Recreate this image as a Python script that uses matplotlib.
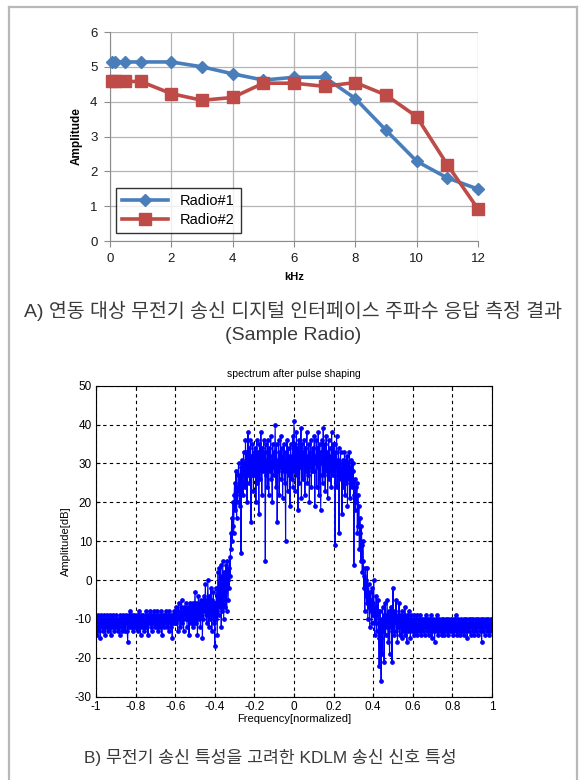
import numpy as np
import matplotlib
matplotlib.use("Agg")
import matplotlib.pyplot as plt

plt.rcParams['font.family'] = ['Liberation Sans', 'Noto Sans CJK KR', 'DejaVu Sans']
plt.rcParams['axes.unicode_minus'] = False

# ---- A) frequency response of the sample radios ----
khz = [0.05, 0.15, 0.5, 1, 2, 3, 4, 5, 6, 7, 8, 9, 10, 11, 12]
radio1 = [5.14, 5.14, 5.14, 5.14, 5.14, 5.0, 4.8, 4.62, 4.70, 4.70, 4.09, 3.18, 2.29, 1.81, 1.49]
radio2 = [4.58, 4.58, 4.58, 4.58, 4.23, 4.04, 4.12, 4.53, 4.53, 4.44, 4.55, 4.19, 3.57, 2.19, 0.92]
series_names = ["Radio#1", "Radio#2"]
x_ticks_a = [0, 2, 4, 6, 8, 10, 12]
y_ticks_a = [0, 1, 2, 3, 4, 5, 6]

# ---- B) transmitted KDLM spectrum after pulse shaping (dB), 801 bins over [-1, 1] ----
spectrum_db = [
    -12, -10, -14, -11, -9, -12, -13, -10, -11, -15, -10, -9, -12, -11, -13, -10, -12, -9, -11, -14,
    -10, -12, -11, -9, -13, -10, -11, -12, -9, -10, -14, -11, -10, -12, -9, -11, -13, -10, -12, -11,
    -11, -9, -12, -10, -13, -11, -10, -12, -14, -9, -11, -10, -12, -13, -10, -9, -11, -12, -10, -13,
    -9, -11, -10, -13, -16, -10, -9, -12, -10, -8, -11, -12, -9, -10, -13, -11, -9, -12, -10, -11,
    -12, -10, -9, -11, -13, -10, -12, -8, -11, -10, -14, -9, -11, -12, -10, -9, -13, -11, -10, -12,
    -10, -8, -12, -9, -11, -14, -10, -9, -11, -8, -10, -12, -9, -10, -13, -9, -11, -8, -10, -12,
    -11, -9, -10, -12, -8, -11, -13, -10, -9, -12, -10, -11, -8, -14, -10, -9, -11, -12, -10, -9,
    -9, -11, -8, -10, -12, -9, -10, -13, -8, -11, -10, -9, -12, -10, -15, -9, -11, -8, -10, -11,
    -9, -7, -11, -8, -10, -13, -8, -6, -10, -9, -12, -7, -9, -5, -11, -8, -10, -13, -7, -9,
    -8, -10, -6, -9, -12, -7, -10, -8, -14, -6, -9, -11, -7, -10, -8, -12, -6, -9, -11, -7,
    -3, -8, -11, -6, -9, -14, -7, -4, -10, -8, -6, -12, -5, -9, -7, -15, -6, -10, -4, -8,
    -7, -1, -9, -5, -11, -6, 0, -8, -12, -4, -7, -10, -2, -6, -13, -5, -9, -3, -11, -6,
    -17, -6, -10, -2, -8, -14, 2, -4, -9, 3, -1, -7, 4, -12, 1, -8, 5, -3, -10, 2,
    -1, -7, 4, 1, -8, 5, 0, -5, 3, -2, 6, 1, 12, 8, 16, 10, 14, 20, 12, 22,
    25, 18, 22, 28, 16, 24, 20, 27, 30, 23, 19, 26, 29, 7, 24, 31, 27, 22, 33, 28,
    30, 24, 36, 28, 33, 20, 31, 38, 27, 34, 25, 29, 36, 15, 32, 27, 35, 30, 23, 33,
    30, 27, 34, 20, 31, 36, 25, 33, 29, 17, 35, 30, 26, 38, 32, 22, 34, 28, 31, 36,
    29, 33, 5, 35, 27, 31, 24, 36, 30, 22, 34, 28, 32, 37, 26, 31, 20, 35, 29, 33,
    27, 33, 40, 24, 30, 35, 15, 31, 28, 36, 22, 33, 29, 37, 26, 30, 34, 21, 32, 28,
    35, 25, 31, 10, 33, 28, 36, 23, 30, 34, 27, 32, 19, 35, 29, 31, 26, 37, 24, 33,
    41, 28, 35, 23, 32, 38, 27, 34, 18, 30, 36, 25, 33, 29, 39, 21, 31, 35, 26, 33,
    30, 36, 22, 34, 28, 32, 38, 25, 31, 27, 35, 20, 33, 29, 36, 24, 32, 28, 34, 30,
    28, 37, 19, 32, 30, 36, 24, 34, 29, 38, 22, 31, 35, 27, 18, 33, 30, 36, 25, 39,
    32, 27, 35, 23, 31, 37, 28, 33, 21, 30, 36, 26, 34, 29, 32, 24, 38, 30, 27, 35,
    31, 28, 35, 9, 33, 29, 37, 24, 31, 27, 34, 12, 30, 28, 33, 26, 29, 17, 31, 24,
    30, 27, 33, 22, 29, 31, 25, 32, 19, 28, 30, 26, 33, 21, 29, 27, 31, 24, 28, 30,
    28, 4, 22, 26, 18, 24, 20, 25, 12, 22, 14, 19, 8, 16, 12, 5, 14, 9, 2, 10,
    5, -2, 1, -8, 3, -4, 0, -6, 3, -10, -5, -1, -7, -12, -3, -8, -5, -11, -2, -9,
    -6, 0, -9, -14, -7, -11, -4, -13, -9, -8, -5, -15, -22, -12, -8, -15, -26, -10, -19, -7,
    -13, -9, -21, -11, -6, -14, -9, -12, -5, -10, -16, -8, -12, -19, -9, -11, -7, -13, -21, -10,
    -2, -12, -9, -14, -8, -11, -5, -13, -10, -16, -9, -12, -6, -11, -14, -9, -12, -10, -15, -8,
    -11, -13, -9, -12, -7, -14, -10, -12, -16, -9, -11, -13, -8, -12, -10, -15, -11, -9, -13, -12,
    -10, -12, -14, -9, -11, -13, -10, -12, -9, -14, -11, -12, -10, -13, -11, -9, -12, -14, -10, -12,
    -11, -13, -10, -12, -14, -11, -9, -12, -13, -10, -12, -11, -14, -10, -12, -13, -11, -9, -12, -15,
    -12, -10, -13, -11, -16, -12, -10, -11, -13, -9, -12, -14, -11, -10, -12, -13, -11, -12, -10, -14,
    -11, -13, -10, -12, -14, -11, -12, -10, -13, -11, -12, -14, -10, -12, -11, -13, -12, -10, -11, -13,
    -12, -11, -14, -10, -13, -12, -11, -9, -12, -14, -11, -13, -10, -12, -11, -14, -12, -10, -13, -11,
    -13, -11, -12, -10, -14, -12, -11, -13, -10, -12, -15, -11, -12, -10, -13, -12, -11, -14, -10, -12,
    -11, -13, -10, -12, -14, -11, -12, -10, -13, -11, -12, -14, -10, -12, -11, -13, -12, -10, -11, -16,
    -12, -10, -13, -11, -12, -14, -11, -10, -12, -13, -11, -12, -10, -14, -12, -11, -13, -10, -12, -11,
    -11,
]
x_ticks_b = [-1, -0.8, -0.6, -0.4, -0.2, 0, 0.2, 0.4, 0.6, 0.8, 1]
x_ticklabels_b = ["-1", "-0.8", "-0.6", "-0.4", "-0.2", "0", "0.2", "0.4", "0.6", "0.8", "1"]
y_ticks_b = [-30, -20, -10, 0, 10, 20, 30, 40, 50]

W, H = 581, 780
fig = plt.figure(figsize=(W / 100, H / 100), dpi=100)

# page frame
frame_kw = dict(color="#b8b8b8", lw=1.6, transform=fig.transFigure)
fig.add_artist(plt.Line2D([9 / W, 9 / W], [0, 1 - 7 / H], **frame_kw))
fig.add_artist(plt.Line2D([9 / W, 577 / W], [1 - 7 / H, 1 - 7 / H], **frame_kw))
fig.add_artist(plt.Line2D([577 / W, 577 / W], [0, 1 - 7 / H], **frame_kw))

# ---------- top chart ----------
axA = fig.add_axes([110 / W, 1 - 241 / H, 368 / W, 209 / H])
axA.plot(khz, radio1, color="#4a7ebb", lw=2.6, marker="D", ms=6,
         mec="#4a7ebb", label=series_names[0], zorder=3, clip_on=False)
axA.plot(khz, radio2, color="#be4b48", lw=2.6, marker="s", ms=9,
         mec="#be4b48", label=series_names[1], zorder=4, clip_on=False)
axA.set_xlim(0, 12)
axA.set_ylim(0, 6)
axA.set_xticks(x_ticks_a)
axA.set_yticks(y_ticks_a)
axA.grid(True, color="#b4b4b4", lw=0.9)
axA.set_axisbelow(True)
for s in ["top", "right"]:
    axA.spines[s].set_visible(False)
for s in ["left", "bottom"]:
    axA.spines[s].set_color("#8c8c8c")
axA.tick_params(length=4, color="#8c8c8c", labelsize=9.5, pad=5, direction="out",
                labelcolor="#1a1a1a")
axA.set_xlabel("kHz", fontsize=8, fontweight="bold", labelpad=5)
axA.set_ylabel("Amplitude", fontsize=8.5, fontweight="bold", labelpad=5)
leg = axA.legend(loc="lower left", bbox_to_anchor=(0.016, 0.038), borderaxespad=0,
                 fontsize=10.5, frameon=True, fancybox=False, edgecolor="black",
                 handlelength=3.2, borderpad=0.4, labelspacing=0.35)
leg.get_frame().set_linewidth(1.0)
leg.set_zorder(5)

# ---------- bottom chart ----------
freq = np.linspace(-1, 1, len(spectrum_db))
axB = fig.add_axes([96 / W, 1 - 696.7 / H, 396 / W, 311 / H])
axB.plot(freq, spectrum_db, color="#0000ff", lw=0.8, marker="o", ms=2.4,
         mec="#0000ff", mfc="#0000ff")
axB.set_xlim(-1, 1)
axB.set_ylim(-30, 50)
axB.set_xticks(x_ticks_b)
axB.set_xticklabels(x_ticklabels_b)
axB.set_yticks(y_ticks_b)
axB.grid(True, color="black", ls=(0, (3, 3)), lw=0.8)
axB.set_axisbelow(True)
for s in axB.spines.values():
    s.set_color("black")
    s.set_linewidth(0.8)
axB.tick_params(direction="in", length=3, labelsize=8.5, pad=3, top=True, right=True)
axB.set_title("spectrum after pulse shaping", fontsize=7.5, pad=6)
axB.set_xlabel("Frequency[normalized]", fontsize=8, labelpad=1)
axB.set_ylabel("Amplitude[dB]", fontsize=8, labelpad=3)

# ---------- captions ----------
cap_color = "#3a3a3a"
fig.text(293 / W, 1 - 311 / H, "A) 연동 대상 무전기 송신 디지털 인터페이스 주파수 응답 측정 결과",
         ha="center", va="center", fontsize=14, color=cap_color)
fig.text(293 / W, 1 - 335 / H, "(Sample Radio)",
         ha="center", va="center", fontsize=14, color=cap_color)
fig.text(270 / W, 1 - 758 / H, "B) 무전기 송신 특성을 고려한 KDLM 송신 신호 특성",
         ha="center", va="center", fontsize=12.4, color=cap_color)

fig.savefig("out.png", dpi=100)
